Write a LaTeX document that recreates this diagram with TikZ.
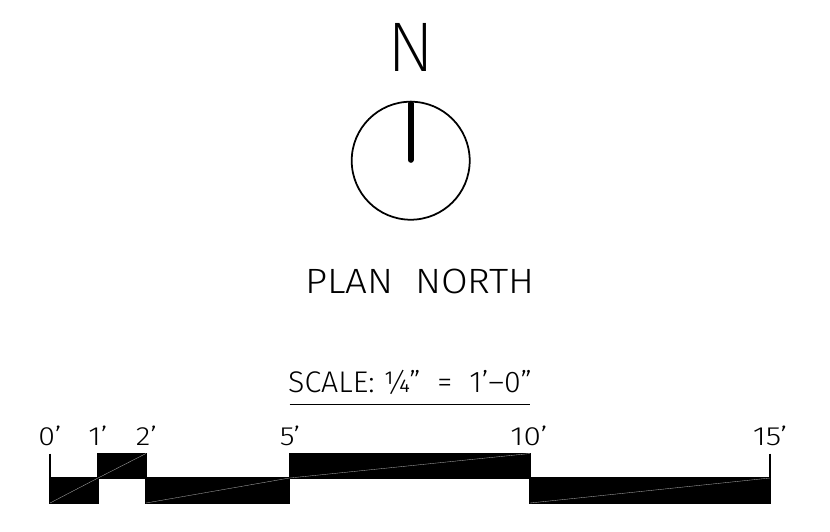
\documentclass[tikz,border=0pt]{standalone}
\usepackage{fontspec}
\setmainfont{Fira Sans Light}
\newfontfamily\thinfont{Fira Sans ExtraLight}
\newcommand{\widetxt}[2]{\scalebox{#1}[1]{#2}}
\tikzstyle{lbl}=[inner sep=0pt, anchor=base]
\tikzstyle{marklbl}=[lbl, font=\fontsize{15}{15}\selectfont]
\tikzstyle{barfill}=[fill=black, draw=black, line width=0.8pt]
\tikzstyle{hair}=[draw=gray!70, line width=0.2pt]
\tikzstyle{tick}=[draw=black, line width=1pt]
\begin{document}
\begin{tikzpicture}[x=0.02cm, y=-0.02cm]
	\useasboundingbox (0,0) rectangle (830,531);
	% north arrow
	\node(northN)[lbl, font=\fontsize{40}{40}\selectfont\thinfont] at (410.7,71) {N};
	\draw[line width=1pt] (410.7,160.7) circle (59);
	\draw[line width=3.2pt, line cap=round] (410.7,103.5) -- (410.7,160);
	\node(planN)[lbl, font=\fontsize{20}{20}\selectfont] at (420,293) {\widetxt{1.1}{PLAN\ \ NORTH}};
	% title of the bar
	\node(scaleT)[lbl, font=\fontsize{17}{17}\selectfont] at (410,392) {\widetxt{1.015}{SCALE:\ ¼"\ \ =\ \ 1'--0"}};
	\draw[line width=1pt] (289.5,404.5) -- (530,404.5);
	% black blocks
	\fill[barfill] (50,478) rectangle (98,503);
	\fill[barfill] (98,453.5) rectangle (146,478);
	\fill[barfill] (146,478) rectangle (289.5,503);
	\fill[barfill] (289.5,453.5) rectangle (530,478);
	\fill[barfill] (530,478) rectangle (770,503);
	\draw[hair] (50,503) -- (98,478);
	\draw[hair] (98,478) -- (146,453.5);
	\draw[hair] (146,503) -- (289.5,478);
	\draw[hair] (289.5,478) -- (530,453.5);
	\draw[hair] (530,503) -- (770,478);
	\draw[tick] (50,453.5) -- (50,478);
	\draw[tick] (770,453.5) -- (770,478);
	% numbers
	\node(m0)[marklbl] at (50,445) {\widetxt{1.15}{0'}};
	\node(m1)[marklbl] at (98,445) {\widetxt{1.15}{1'}};
	\node(m2)[marklbl] at (146.5,445) {\widetxt{1.15}{2'}};
	\node(m5)[marklbl] at (290,445) {\widetxt{1.15}{5'}};
	\node(m10)[marklbl] at (529,445) {\widetxt{1.2}{10'}};
	\node(m15)[marklbl] at (770,445) {\widetxt{1.2}{15'}};
\end{tikzpicture}
\end{document}
